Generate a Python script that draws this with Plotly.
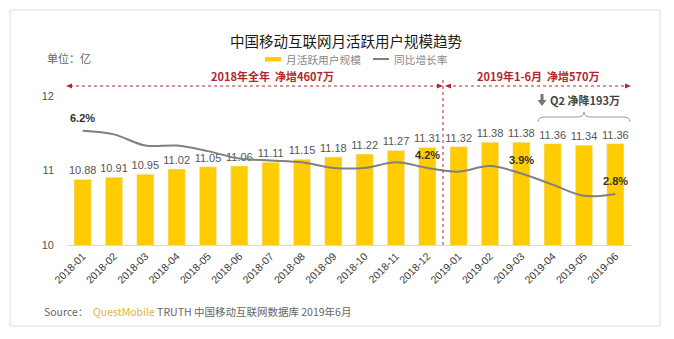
import plotly.graph_objects as go

months = ["2018-01", "2018-02", "2018-03", "2018-04", "2018-05", "2018-06",
          "2018-07", "2018-08", "2018-09", "2018-10", "2018-11", "2018-12",
          "2019-01", "2019-02", "2019-03", "2019-04", "2019-05", "2019-06"]
mau = [10.88, 10.91, 10.95, 11.02, 11.05, 11.06, 11.11, 11.15, 11.18, 11.22,
       11.27, 11.31, 11.32, 11.38, 11.38, 11.36, 11.34, 11.36]
growth = [6.2, 6.0, 5.4, 5.4, 5.1, 4.7, 4.6, 4.5, 4.2, 4.2, 4.5, 4.2,
          4.0, 4.3, 3.9, 3.3, 2.7, 2.8]
labeled_idx = [0, 11, 14, 17]

W, H = 674, 339
L, R, T, B = 67, 631, 96, 245


def px(x):
    return (x - L) / (R - L)


def py(y):
    return (B - y) / (B - T)


CJK = "Noto Sans CJK SC"
RED = "#B3262E"

fig = go.Figure()
fig.add_trace(go.Bar(
    x=months, y=mau, marker_color="#FFCC00", name="月活跃用户规模",
    text=[f"{v:.2f}" for v in mau], textposition="outside", constraintext="none",
    textfont=dict(family="Liberation Sans, Arial", size=11, color="#555555"),
    cliponaxis=False, showlegend=False))
fig.add_trace(go.Scatter(
    x=months, y=growth, yaxis="y2", mode="lines", name="同比增长率",
    line=dict(color="#808080", width=2, shape="spline", smoothing=1),
    showlegend=False))

ann = []
for i in labeled_idx:
    ann.append(dict(x=months[i], y=growth[i], xref="x", yref="y2",
                    text=f"<b>{growth[i]:.1f}%</b>", showarrow=False, yshift=13,
                    xanchor="center", yanchor="middle",
                    font=dict(family="Liberation Sans, Arial", size=11, color="#333333")))


def text_at(x, y, txt, size, color, anchor="center", bold=False, family=CJK):
    if bold:
        txt = f"<b>{txt}</b>"
    ann.append(dict(x=px(x), y=py(y), xref="paper", yref="paper", text=txt,
                    showarrow=False, xanchor=anchor, yanchor="middle",
                    font=dict(family=family, size=size, color=color)))


text_at(346, 40, "中国移动互联网月活跃用户规模趋势", 14.5, "#1a1a1a")
text_at(45, 58, "单位：亿", 11, "#666666", anchor="left")
text_at(284, 59, "月活跃用户规模", 10.7, "#888888", anchor="left")
text_at(392, 59, "同比增长率", 10.7, "#888888", anchor="left")
text_at(272, 76, "2018年全年  净增4607万", 11, RED, bold=True)
text_at(538, 76, "2019年1-6月  净增570万", 11, RED, bold=True)
text_at(548, 100, "Q2 净降193万", 11, "#444444", anchor="left", bold=True)
text_at(42, 311, "Source：  <span style='color:#E9B23C'>QuestMobile</span> TRUTH 中国移动互联网数据库 2019年6月",
        10.5, "#666666", anchor="left")

shapes = []
# card border
shapes.append(dict(type="rect", xref="paper", yref="paper", x0=px(10), x1=px(660),
                   y0=py(10), y1=py(326), line=dict(color="#dddddd", width=1), layer="below"))
# legend swatches
shapes.append(dict(type="rect", xref="paper", yref="paper", x0=px(265), x1=px(281),
                   y0=py(57), y1=py(61.5), fillcolor="#FFCC00", line=dict(width=0)))
shapes.append(dict(type="line", xref="paper", yref="paper", x0=px(373), x1=px(389),
                   y0=py(59), y1=py(59), line=dict(color="#808080", width=2)))
# red dotted arrows
for a, b in [(70, 441), (447, 628)]:
    shapes.append(dict(type="line", xref="paper", yref="paper", x0=px(a), x1=px(b),
                       y0=py(86), y1=py(86), line=dict(color=RED, width=1, dash="dot")))


def tri(tip, base, yc, hh):
    return (f"M {px(tip)},{py(yc)} L {px(base)},{py(yc - hh)} "
            f"L {px(base)},{py(yc + hh)} Z")


for tip, base in [(66, 72), (443, 437), (445, 451), (631, 625)]:
    shapes.append(dict(type="path", xref="paper", yref="paper", path=tri(tip, base, 86, 2.5),
                       fillcolor=RED, line=dict(width=0)))
# vertical divider
shapes.append(dict(type="line", xref="x", yref="paper", x0=11.5, x1=11.5,
                   y0=0, y1=py(80), line=dict(color=RED, width=1, dash="dot")))
# down arrow icon
arrow = (f"M {px(540.5)},{py(94)} L {px(543.5)},{py(94)} L {px(543.5)},{py(100)} "
         f"L {px(546.5)},{py(100)} L {px(542)},{py(106)} L {px(537.5)},{py(100)} "
         f"L {px(540.5)},{py(100)} Z")
shapes.append(dict(type="path", xref="paper", yref="paper", path=arrow,
                   fillcolor="#777777", line=dict(width=0)))
# brace
brace = (f"M {px(538)},{py(122)} Q {px(538)},{py(117)} {px(545)},{py(117)} "
         f"L {px(577)},{py(117)} Q {px(584)},{py(117)} {px(584)},{py(112)} "
         f"Q {px(584)},{py(117)} {px(591)},{py(117)} L {px(623)},{py(117)} "
         f"Q {px(630)},{py(117)} {px(630)},{py(122)}")
shapes.append(dict(type="path", xref="paper", yref="paper", path=brace,
                   line=dict(color="#999999", width=1)))

fig.update_layout(
    width=W, height=H,
    margin=dict(l=L, r=W - R, t=T, b=H - B),
    paper_bgcolor="white", plot_bgcolor="rgba(0,0,0,0)",
    bargap=0.45,
    xaxis=dict(type="category", showline=True, linecolor="#d9d9d9", linewidth=1,
               showgrid=False, ticks="", tickangle=-45,
               tickfont=dict(family="Liberation Sans, Arial", size=10.5, color="#3a3a3a")),
    yaxis=dict(range=[10, 12], tickvals=[10, 11, 12], showgrid=False, zeroline=False,
               showline=False, ticks="", ticklabelstandoff=12,
               tickfont=dict(family="Liberation Sans, Arial", size=11, color="#555555")),
    yaxis2=dict(range=[0.06, 8.06], overlaying="y", side="right", visible=False),
    annotations=ann, shapes=shapes, showlegend=False,
)

fig.write_html("out.html")
